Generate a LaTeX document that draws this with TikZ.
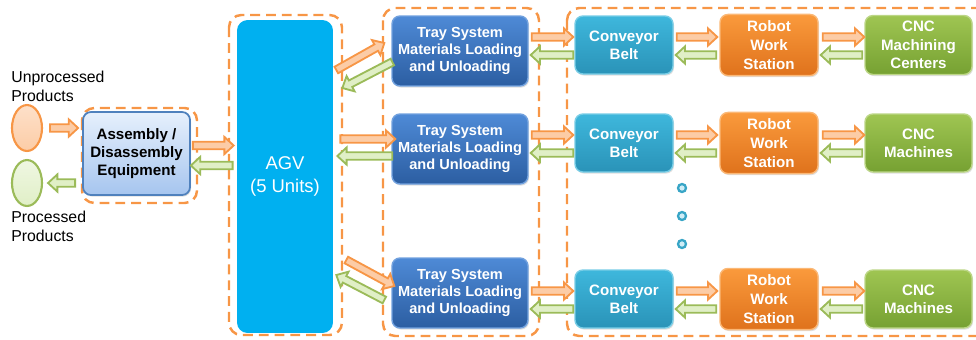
\documentclass[tikz,border=0pt]{standalone}
\usepackage{fontspec}
\setmainfont{Liberation Sans}
\usetikzlibrary{calc,shadows,shapes.geometric}

\definecolor{dashorange}{HTML}{F79646}
\definecolor{arrowO}{HTML}{FCCCA6}
\definecolor{arrowG}{HTML}{E0EFC6}
\definecolor{greenD}{HTML}{9BBB59}
\definecolor{trayA}{HTML}{4E8AD6}
\definecolor{trayB}{HTML}{2C5EA2}
\definecolor{beltA}{HTML}{3EB7DC}
\definecolor{beltB}{HTML}{2A93B8}
\definecolor{robotA}{HTML}{FA9A3C}
\definecolor{robotB}{HTML}{DF721C}
\definecolor{cncA}{HTML}{9FC552}
\definecolor{cncB}{HTML}{76A132}
\definecolor{asmA}{HTML}{E6F0FC}
\definecolor{asmB}{HTML}{A6C5EF}
\definecolor{asmD}{HTML}{4F81BD}
\definecolor{agvC}{HTML}{00B0F0}

\tikzset{
  frame/.style={draw=dashorange, line width=1.4pt, dash pattern=on 5.6pt off 3.4pt, rounded corners=7pt},
  box/.style={rounded corners=4.5pt, align=center, text=white, line width=0.8pt,
    font=\bfseries\fontsize{8.6}{10.4}\selectfont,
    drop shadow={opacity=0.25, shadow xshift=0.6pt, shadow yshift=-0.9pt}},
  traybox/.style={box, top color=trayA, bottom color=trayB, draw=trayA!80!white, minimum width=2.72cm, minimum height=1.4cm,
    font=\bfseries\fontsize{8.3}{9.9}\selectfont},
  beltbox/.style={box, top color=beltA, bottom color=beltB, draw=beltA!70!white, minimum width=1.96cm, minimum height=1.16cm},
  robotbox/.style={box, top color=robotA, bottom color=robotB, draw=robotA!70!white, minimum width=1.96cm, minimum height=1.16cm,
    font=\bfseries\fontsize{8.6}{10.9}\selectfont},
  cncbox/.style={box, top color=cncA, bottom color=cncB, draw=cncA!70!white, minimum width=2.14cm, minimum height=1.16cm},
  asmbox/.style={box, text=black, top color=asmA, bottom color=asmB, draw=asmD, line width=1pt, minimum width=2.14cm, minimum height=1.66cm},
  lbl/.style={align=left, inner sep=0pt, font=\fontsize{9}{10.8}\selectfont},
  blob/.style={ellipse, minimum width=0.6cm, minimum height=0.92cm, line width=1.2pt},
  dotnode/.style={circle, minimum size=0.16cm, inner sep=0pt, draw=beltA!90!black, fill=beltA!25!white, line width=1.3pt},
  fwd/.style={draw=dashorange, fill=arrowO, line width=1.05pt, line join=miter},
  back/.style={draw=greenD, fill=arrowG, line width=1.05pt, line join=miter},
}

%% fat arrow from #2 to #3
\newcommand\fatarrow[3]{%
  \draw[#1] let \p1=(#2), \p2=(#3), \n1={atan2(\y2-\y1,\x2-\x1)}, \n2={veclen(\x2-\x1,\y2-\y1)} in
    [shift={(\p1)}, rotate=\n1] (0pt,-2.1pt) -- (\n2-5.3pt,-2.1pt) -- (\n2-5.3pt,-4.9pt) -- (\n2,0pt)
    -- (\n2-5.3pt,4.9pt) -- (\n2-5.3pt,2.1pt) -- (0pt,2.1pt) -- cycle;}

\begin{document}
\begin{tikzpicture}[x=0.02cm, y=-0.02cm]

\useasboundingbox (0,0) rectangle (976,339);

%% dashed groups
\draw[frame] (82,108) rectangle (197,203);
\draw[frame] (229,15) rectangle (342,335);
\draw[frame] (383,8) rectangle (539,336);
\draw[frame] (567,8) rectangle (990,336);

%% products
\node[lbl, anchor=north west] (unlbl) at (11,71) {Unprocessed\\Products};
\node[blob, draw=dashorange, top color=arrowO!60!white, bottom color=arrowO] (unproc) at (27,128) {};
\node[blob, draw=greenD, top color=arrowG!50!white, bottom color=arrowG] (proc) at (27,183) {};
\node[lbl, anchor=north west] (prlbl) at (11,211) {Processed\\Products};

%% assembly and AGV
\node[asmbox] (asm) at (136.5,153.5) {Assembly /\\Disassembly\\Equipment};
\node[rounded corners=6pt, fill=agvC, minimum width=1.92cm, minimum height=6.26cm, align=center, text=white,
  font=\fontsize{10.5}{13}\selectfont] (agv) at (285,176.5) {AGV\\(5 Units)};

%% tray systems
\node[traybox] (tray1) at (460,51) {Tray System\\Materials Loading\\and Unloading};
\node[traybox] (tray2) at (460,149) {Tray System\\Materials Loading\\and Unloading};
\node[traybox] (tray3) at (460,293) {Tray System\\Materials Loading\\and Unloading};

%% cells
\node[beltbox] (belt1) at (624,45) {Conveyor\\Belt};
\node[robotbox] (robot1) at (769,45) {Robot\\Work\\Station};
\node[cncbox] (cnc1) at (918.5,45) {CNC\\Machining\\Centers};

\node[beltbox] (belt2) at (624,143) {Conveyor\\Belt};
\node[robotbox] (robot2) at (769,143) {Robot\\Work\\Station};
\node[cncbox] (cnc2) at (918.5,143) {CNC\\Machines};

\node[beltbox] (belt3) at (624,299) {Conveyor\\Belt};
\node[robotbox] (robot3) at (769,299) {Robot\\Work\\Station};
\node[cncbox] (cnc3) at (918.5,299) {CNC\\Machines};

\node[dotnode] (dot1) at (682,188) {};
\node[dotnode] (dot2) at (682,216) {};
\node[dotnode] (dot3) at (682,244) {};

%% product flow
\fatarrow{fwd}{$(unproc.east)+(7,0)$}{$(unproc.east -| asm.west)+(-4,0)$}
\fatarrow{back}{$(asm.west |- proc.east)+(-7,0)$}{$(proc.east)+(5,0)$}
\fatarrow{fwd}{$(asm.east)+(2,-8)$}{$(asm.east -| agv.west)+(-3,-8)$}
\fatarrow{back}{$(asm.east -| agv.west)+(-4,12)$}{$(asm.east)+(0,12)$}

%% AGV to trays
\fatarrow{fwd}{$(tray1.west)+(-55,19)$}{$(tray1.west)+(-7,-8)$}
\fatarrow{back}{$(tray1.west)+(1,11)$}{$(tray1.west)+(-49,37)$}
\fatarrow{fwd}{$(tray2.west -| agv.east)+(7,-10)$}{$(tray2.west)+(4,-10)$}
\fatarrow{back}{$(tray2.west)+(1,7)$}{$(tray2.west -| agv.east)+(4,7)$}
\fatarrow{fwd}{$(tray3.west)+(-45,-33)$}{$(tray3.west)+(3,-7)$}
\fatarrow{back}{$(tray3.west)+(-7,7)$}{$(tray3.west)+(-55,-18)$}

%% along each cell
\foreach \r in {1,2,3} {
  \fatarrow{fwd}{$(tray\r.east |- belt\r.west)+(3,-8)$}{$(belt\r.west)+(-1,-8)$}
  \fatarrow{back}{$(belt\r.west)+(-1,10)$}{$(tray\r.east |- belt\r.west)+(2,10)$}
  \fatarrow{fwd}{$(belt\r.east)+(3,-8)$}{$(robot\r.west)+(-2,-8)$}
  \fatarrow{back}{$(robot\r.west)+(-3,10)$}{$(belt\r.east)+(2,10)$}
  \fatarrow{fwd}{$(robot\r.east)+(4,-8)$}{$(cnc\r.west)+(0,-8)$}
  \fatarrow{back}{$(cnc\r.west)+(-2,10)$}{$(robot\r.east)+(2,10)$}
}

\end{tikzpicture}
\end{document}
